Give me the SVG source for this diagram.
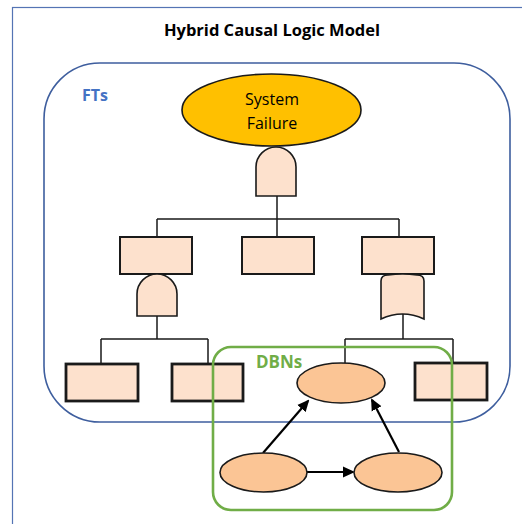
<svg xmlns="http://www.w3.org/2000/svg" width="522" height="524" viewBox="0 0 522 524">
<style>
.box{fill:#fde1cd;stroke:#1a1a1a;stroke-width:2}
.boxb{fill:#fde1cd;stroke:#1a1a1a;stroke-width:2.8}
.gate{fill:#fde1cd;stroke:#1a1a1a;stroke-width:1.6}
.dbn{fill:#fbc595;stroke:#1a1a1a;stroke-width:1.6}
.ln{fill:none;stroke:#1a1a1a;stroke-width:1.5}
.ar{fill:none;stroke:#000;stroke-width:2.2}
.t{font-family:"Open Sans","Liberation Sans",sans-serif}
</style>
<defs>
<marker id="ah" markerWidth="12" markerHeight="12" refX="10" refY="6" orient="auto" markerUnits="userSpaceOnUse" viewBox="0 0 12 12">
<path d="M0,0.5 L12,6 L0,11.5 Z" fill="#000"/>
</marker>
</defs>
<rect width="522" height="524" fill="#fff"/>
<rect x="12.5" y="7.5" width="530" height="540" fill="none" stroke="#5474b4" stroke-width="1.2"/>
<text class="t" x="272" y="36" text-anchor="middle" font-size="16.5" font-weight="bold" fill="#000">Hybrid Causal Logic Model</text>

<g id="fts">
<rect x="44" y="63" width="466" height="359" rx="56" ry="56" fill="none" stroke="#3e5e9e" stroke-width="1.6"/>
<text class="t" x="82" y="101" font-size="16" font-weight="bold" fill="#4472c4">FTs</text>
</g>

<g id="connectors">
<path class="ln" d="M277,196 V219 M157,219 H399 M157,219 V237 M277,219 V237 M399,219 V237"/>
<path class="ln" d="M157,316 V339 M101,339 H208 M101,339 V364 M208,339 V364"/>
<path class="ln" d="M403,314 V339 M345,339 H453 M345,339 V363 M453,339 V363"/>
<line class="ar" x1="263" y1="453" x2="308" y2="401" marker-end="url(#ah)"/>
<line class="ar" x1="399" y1="452" x2="372" y2="400" marker-end="url(#ah)"/>
<line class="ar" x1="307" y1="472" x2="353" y2="472" marker-end="url(#ah)"/>
</g>

<g id="system-failure">
<ellipse cx="271.5" cy="110" rx="89.5" ry="36" fill="#ffc000" stroke="#1a1a1a" stroke-width="1.6"/>
<text class="t" x="272" y="105" text-anchor="middle" font-size="16" fill="#000">System</text>
<text class="t" x="272" y="129" text-anchor="middle" font-size="16" fill="#000">Failure</text>
</g>

<g id="and-gate-top"><path class="gate" d="M256,196 L256,167 A20,20 0 0 1 296,167 L296,196 Z"/></g>
<g id="event-mid-left"><rect class="box" x="120" y="237" width="72" height="37"/></g>
<g id="event-mid-center"><rect class="box" x="242" y="237" width="72" height="37"/></g>
<g id="event-mid-right"><rect class="box" x="362" y="237" width="72" height="37"/></g>
<g id="and-gate-left"><path class="gate" d="M137,316 L137,294 A20,20 0 0 1 177,294 L177,316 Z"/></g>
<g id="or-gate-right"><path class="gate" d="M381,319 L381,281 Q381,275 388,275 Q402.5,273 417,275 Q424,275 424,281 L424,319 Q402.5,309 381,319 Z"/></g>
<g id="event-bot-1"><rect class="boxb" x="66" y="364" width="72" height="37"/></g>
<g id="event-bot-2"><rect class="boxb" x="172" y="364" width="71" height="37"/></g>
<g id="event-bot-3"><rect class="boxb" x="415" y="363" width="72" height="37"/></g>

<g id="dbns">
<rect x="213" y="347" width="239" height="163" rx="18" ry="18" fill="none" stroke="#70ad47" stroke-width="2.6"/>
<text class="t" x="256" y="368" font-size="17" font-weight="bold" fill="#70ad47">DBNs</text>
</g>
<g id="dbn-top"><ellipse class="dbn" cx="341" cy="383" rx="44" ry="20"/></g>
<g id="dbn-left"><ellipse class="dbn" cx="263.5" cy="472.5" rx="43.5" ry="19.5"/></g>
<g id="dbn-right"><ellipse class="dbn" cx="398" cy="472.5" rx="44" ry="19.5"/></g>
</svg>
